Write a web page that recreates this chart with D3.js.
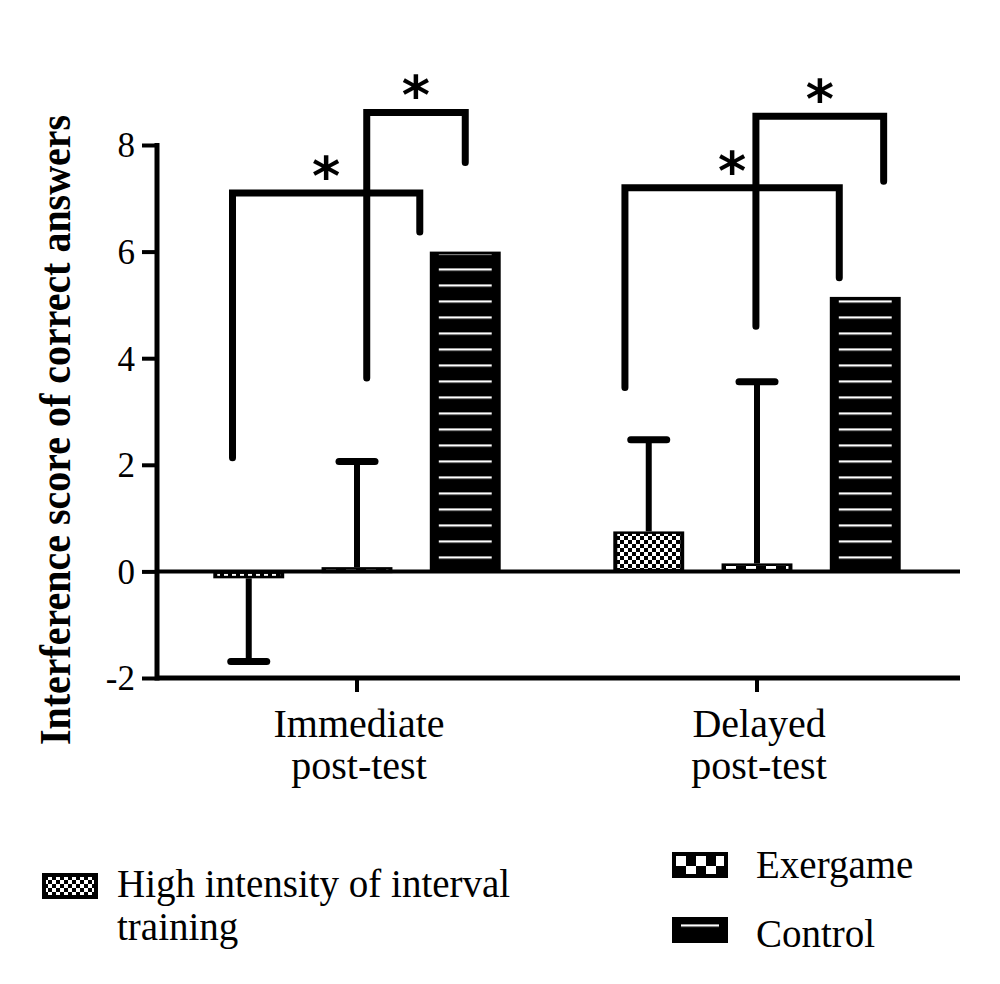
<!DOCTYPE html>
<html>
<head>
<meta charset="utf-8">
<script src="https://cdn.jsdelivr.net/npm/d3@7"></script>
<style>
  body { margin: 0; background: #fff; }
  text { font-family: "Liberation Serif", serif; fill: #000; }
</style>
</head>
<body>
<svg id="chart" width="1000" height="984"></svg>
<script>
// data
const groups = ["Immediate post-test", "Delayed post-test"]
const series = ["High intensity of interval training", "Exergame", "Control"]
const hiitMean = [-0.13, 0.75]
const hiitSD = [1.56, 1.72]
const exergameMean = [0.08, 0.15]
const exergameSD = [1.98, 3.41]
const controlMean = [6.0, 5.15]
const controlSD = [0, 0]
const yTicks = [-2, 0, 2, 4, 6, 8]
// significance brackets: group, left/right in bar-index units, top, left end, right end (values)
const brackets = [
    { group: 0, x1: -0.15, x2: 1.58, top: 7.1, yl: 2.13, yr: 6.37, label: "*" },
    { group: 0, x1: 1.09, x2: 2.0, top: 8.61, yl: 3.63, yr: 7.67, label: "*" },
    { group: 1, x1: -0.22, x2: 1.76, top: 7.2, yl: 3.45, yr: 5.51, label: "*" },
    { group: 1, x1: 0.99, x2: 2.17, top: 8.54, yl: 4.6, yr: 7.32, label: "*" }
]

const means = [hiitMean, exergameMean, controlMean]
const sds = [hiitSD, exergameSD, controlSD]
const patternIds = ["p-hiit", "p-exer", "p-ctrl"]
const insetX = [4, 4, 9]

let svg = d3.select("#chart")

let x0 = d3.scaleBand().domain(groups).range([157, 957])
let x1 = d3.scaleBand().domain(series).range([0, x0.bandwidth()])
    .paddingInner(0.345).paddingOuter(0.52)
let y = d3.scaleLinear().domain([-2, 8]).range([678, 145])

// index (0..2, fractional) within a group -> pixel
const idxX = (g, i) => {
    let c0 = x0(groups[g]) + x1(series[0]) + x1.bandwidth() / 2
    return c0 + i * x1.step()
}

// patterns
let defs = svg.append("defs")
let p1 = defs.append("pattern").attr("id", "p-hiit")
    .attr("patternUnits", "userSpaceOnUse").attr("width", 8).attr("height", 8)
p1.append("rect").attr("width", 8).attr("height", 8).attr("fill", "#fff")
p1.append("rect").attr("width", 4).attr("height", 4).attr("fill", "#000")
p1.append("rect").attr("x", 4).attr("y", 4).attr("width", 4).attr("height", 4).attr("fill", "#000")

let p2 = defs.append("pattern").attr("id", "p-exer")
    .attr("patternUnits", "userSpaceOnUse").attr("width", 20).attr("height", 20)
    .attr("x", 6).attr("y", 6)
p2.append("rect").attr("width", 20).attr("height", 20).attr("fill", "#000")
p2.append("rect").attr("width", 10).attr("height", 10).attr("fill", "#fff")
p2.append("rect").attr("x", 10).attr("y", 10).attr("width", 10).attr("height", 10).attr("fill", "#fff")

let p3 = defs.append("pattern").attr("id", "p-ctrl")
    .attr("patternUnits", "userSpaceOnUse").attr("width", 16).attr("height", 16)
    .attr("y", y(0) - 15)
p3.append("rect").attr("width", 16).attr("height", 16).attr("fill", "#000")
p3.append("rect").attr("y", 0).attr("width", 16).attr("height", 2.2).attr("fill", "#fff")

// bars
let barData = []
groups.forEach((g, gi) => {
    series.forEach((s, si) => {
        barData.push({ g: g, gi: gi, s: s, si: si, v: means[si][gi], sd: sds[si][gi] })
    })
})

let bars = svg.append("g")
bars.selectAll("rect.outer")
    .data(barData)
    .enter()
    .append("rect")
    .attr("class", "outer")
    .attr("x", d => x0(d.g) + x1(d.s))
    .attr("y", d => Math.min(y(d.v), y(0)))
    .attr("width", x1.bandwidth())
    .attr("height", d => Math.max(Math.abs(y(d.v) - y(0)), 6))
    .attr("fill", "#000")

bars.selectAll("rect.inner")
    .data(barData)
    .enter()
    .append("rect")
    .attr("class", "inner")
    .attr("x", d => x0(d.g) + x1(d.s) + insetX[d.si])
    .attr("y", d => Math.min(y(d.v), y(0)) + 2.5)
    .attr("width", d => x1.bandwidth() - 2 * insetX[d.si])
    .attr("height", d => Math.max(Math.max(Math.abs(y(d.v) - y(0)), 6) - 5, 0))
    .attr("fill", d => "url(#" + patternIds[d.si] + ")")

// error bars (one-sided, away from zero)
let errs = svg.append("g").attr("stroke", "#000")
let errData = barData.filter(d => d.sd > 0)
errs.selectAll("line.stem")
    .data(errData)
    .enter()
    .append("line")
    .attr("x1", d => x0(d.g) + x1(d.s) + x1.bandwidth() / 2)
    .attr("x2", d => x0(d.g) + x1(d.s) + x1.bandwidth() / 2)
    .attr("y1", d => y(d.v))
    .attr("y2", d => y(d.v + Math.sign(d.v) * d.sd))
    .attr("stroke-width", 6)
errs.selectAll("line.cap")
    .data(errData)
    .enter()
    .append("line")
    .attr("x1", d => x0(d.g) + x1(d.s) + x1.bandwidth() / 2 - 18)
    .attr("x2", d => x0(d.g) + x1(d.s) + x1.bandwidth() / 2 + 18)
    .attr("y1", d => y(d.v + Math.sign(d.v) * d.sd))
    .attr("y2", d => y(d.v + Math.sign(d.v) * d.sd))
    .attr("stroke-width", 7)
    .attr("stroke-linecap", "round")

// axes
let axes = svg.append("g").attr("stroke", "#000")
axes.append("line")
    .attr("x1", 157).attr("x2", 960)
    .attr("y1", y(0)).attr("y2", y(0))
    .attr("stroke-width", 4)
axes.append("line")
    .attr("x1", 157).attr("x2", 960)
    .attr("y1", y(-2)).attr("y2", y(-2))
    .attr("stroke-width", 5)
axes.append("line")
    .attr("x1", 157).attr("x2", 157)
    .attr("y1", y(8) - 2).attr("y2", y(-2) + 2.5)
    .attr("stroke-width", 5)

let yAxis = svg.append("g")
    .attr("transform", "translate(157,0)")
    .call(d3.axisLeft(y).tickValues(yTicks).tickSize(15).tickPadding(7).tickFormat(d => String(d)))
yAxis.select(".domain").remove()
yAxis.selectAll(".tick line").attr("stroke-width", 4)
yAxis.selectAll(".tick text")
    .style("font-family", "Liberation Serif")
    .attr("font-size", 35)
    .attr("dy", "0.34em")

let xAxis = svg.append("g")
    .attr("transform", "translate(0," + y(-2) + ")")
    .call(d3.axisBottom(x0).tickSize(14).tickFormat(""))
xAxis.select(".domain").remove()
xAxis.selectAll(".tick line").attr("stroke-width", 4)

// category labels on two lines
xAxis.selectAll(".tick").each(function (d) {
    let words = d.split(" ")
    let t = d3.select(this).append("text")
        .attr("text-anchor", "middle")
        .attr("font-size", 40)
        .style("font-family", "Liberation Serif")
    t.append("tspan").attr("x", 2).attr("y", 59).text(words[0])
    t.append("tspan").attr("x", 2).attr("y", 101).text(words.slice(1).join(" "))
})

// y title
svg.append("text")
    .attr("transform", "translate(70,430) rotate(-90)")
    .attr("text-anchor", "middle")
    .attr("font-size", 44)
    .attr("font-weight", "bold")
    .attr("textLength", 630)
    .attr("lengthAdjust", "spacingAndGlyphs")
    .text("Interference score of correct answers")

// brackets
let br = svg.append("g")
br.selectAll("path")
    .data(brackets)
    .enter()
    .append("path")
    .attr("fill", "none")
    .attr("stroke", "#000")
    .attr("stroke-width", 7)
    .attr("stroke-linejoin", "miter")
    .attr("stroke-linecap", "round")
    .attr("d", d => d3.line()([
        [idxX(d.group, d.x1), y(d.yl)],
        [idxX(d.group, d.x1), y(d.top)],
        [idxX(d.group, d.x2), y(d.top)],
        [idxX(d.group, d.x2), y(d.yr)]
    ]))
br.selectAll("text")
    .data(brackets)
    .enter()
    .append("text")
    .attr("x", d => (idxX(d.group, d.x1) + idxX(d.group, d.x2)) / 2)
    .attr("y", d => y(d.top) + 2)
    .attr("text-anchor", "middle")
    .attr("font-size", 54)
    .attr("font-weight", "bold")
    .style("font-family", "DejaVu Sans")
    .text(d => d.label)

// legend
const legendPos = [[42, 873, 117, 897], [672, 852, 756, 878], [672, 917, 756, 947]]
let leg = svg.append("g")
series.forEach((s, i) => {
    let [sx, sy, tx, ty] = legendPos[i]
    leg.append("rect").attr("x", sx).attr("y", sy).attr("width", 56).attr("height", 26).attr("fill", "#000")
    leg.append("rect").attr("x", sx + insetX[i]).attr("y", sy + 4)
        .attr("width", 56 - 2 * insetX[i]).attr("height", 18)
        .attr("fill", "url(#" + patternIds[i] + ")")
    let t = leg.append("text").attr("font-size", 39)
    // wrap long labels
    let words = s.split(" "), line = [], ln = 0
    let tspan = t.append("tspan").attr("x", tx).attr("y", ty)
    words.forEach(w => {
        line.push(w)
        tspan.text(line.join(" "))
        if (tspan.node().getComputedTextLength() > 420 && line.length > 1) {
            line.pop()
            tspan.text(line.join(" "))
            line = [w]
            ln++
            tspan = t.append("tspan").attr("x", tx).attr("y", ty + ln * 43).text(w)
        }
    })
})
</script>
</body>
</html>
